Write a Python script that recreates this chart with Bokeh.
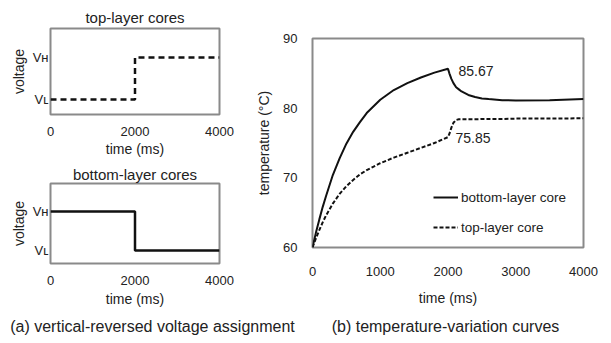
from bokeh.plotting import figure
from bokeh.layouts import row, column
from bokeh.models import Range1d, FixedTicker, Legend, LegendItem, Label
from bokeh.embed import file_html
from bokeh.resources import INLINE

FONT = "Liberation Sans"
TXT = "#222222"
FRAME = "#8a8a8a"

# ---- data: voltage assignment (a) ----
volt_time = [0, 2000, 2000, 4000]
top_voltage = [0, 0, 1, 1]        # 0 = VL, 1 = VH
bottom_voltage = [1, 1, 0, 0]
volt_ticks = [0, 1]
volt_tick_labels = {0: "V\u029f", 1: "V\u029c"}
volt_x_ticks = [0, 2000, 4000]

# ---- data: temperature curves (b) ----
temp_time = [0, 50, 100, 150, 200, 300, 400, 500, 600, 700, 800, 1000, 1200, 1400,
             1600, 1800, 2000, 2020, 2050, 2080, 2120, 2160, 2200, 2300, 2400, 2500,
             2600, 2800, 3000, 3500, 4000]
bottom_core = [60, 62.1, 64.0, 65.8, 67.4, 70.4, 72.8, 74.9, 76.6, 78.0, 79.3, 81.2, 82.6, 83.6,
               84.4, 85.1, 85.67, 85.0, 84.2, 83.6, 83.0, 82.7, 82.4, 81.9, 81.6, 81.4,
               81.3, 81.15, 81.1, 81.15, 81.3]
top_core = [60, 61.3, 62.5, 63.6, 64.6, 66.3, 67.7, 68.8, 69.7, 70.5, 71.1, 72.1, 72.9, 73.6,
            74.3, 75.0, 75.85, 76.3, 77.2, 77.9, 78.3, 78.4, 78.4, 78.4, 78.4, 78.45,
            78.45, 78.45, 78.5, 78.5, 78.55]
temp_y_ticks = [60, 70, 80, 90]
temp_x_ticks = [0, 1000, 2000, 3000, 4000]
peak_labels = [(2155, 85.4, "85.67"), (2111, 75.65, "75.85")]
captions = ["(a) vertical-reversed voltage assignment", "(b) temperature-variation curves"]


def style_common(p):
    p.outline_line_color = FRAME
    p.outline_line_width = 2
    p.xgrid.visible = False
    p.ygrid.visible = False
    p.background_fill_color = "white"
    p.border_fill_color = "white"
    for ax in (p.xaxis[0], p.yaxis[0]):
        ax.axis_line_color = None
        ax.major_tick_line_color = None
        ax.minor_tick_line_color = None
        ax.major_tick_out = 0
        ax.major_tick_in = 0
        ax.minor_tick_out = 0
        ax.major_label_text_font = FONT
        ax.major_label_text_font_size = "13px"
        ax.major_label_text_color = TXT
        ax.axis_label_text_font = FONT
        ax.axis_label_text_font_style = "normal"
        ax.axis_label_text_color = TXT


def volt_fig(title, yvals, dash, width, height, lb, rb, tb, bb, ymin, ymax, title_standoff,
             label_standoff):
    p = figure(width=width, height=height, output_backend="svg", toolbar_location=None,
               x_range=Range1d(0, 4000), y_range=Range1d(ymin, ymax),
               min_border_left=lb, min_border_right=rb, min_border_top=tb, min_border_bottom=bb)
    p.title.text = title
    p.title.align = "center"
    p.title.text_font = FONT
    p.title.text_font_size = "15px"
    p.title.text_font_style = "normal"
    p.title.text_color = TXT
    p.title.standoff = title_standoff
    style_common(p)
    p.line(volt_time, yvals, line_color="#111111", line_width=2.5, line_dash=dash)
    p.xaxis.ticker = FixedTicker(ticks=volt_x_ticks)
    p.xaxis.major_label_standoff = 12
    p.xaxis.axis_label = "time (ms)"
    p.xaxis.axis_label_text_font_size = "14px"
    p.xaxis.axis_label_standoff = label_standoff
    p.yaxis.ticker = FixedTicker(ticks=volt_ticks)
    p.yaxis.major_label_overrides = volt_tick_labels
    p.yaxis.major_label_standoff = 2
    p.yaxis.axis_label = "voltage"
    p.yaxis.axis_label_text_font_size = "14px"
    p.yaxis.axis_label_standoff = 3
    return p


p_top = volt_fig("top-layer cores", top_voltage, "6 4", 252, 160, 50, 30, 28, 46,
                 -0.357, 1.69, 5, 2)
p_bot = volt_fig("bottom-layer cores", bottom_voltage, "solid", 252, 155, 49, 33, 23, 52,
                 -0.333, 1.72, 1, 3)

# ---- right figure ----
p = figure(width=359, height=315, output_backend="svg", toolbar_location=None,
           x_range=Range1d(0, 4000), y_range=Range1d(60, 90),
           min_border_left=60, min_border_right=28, min_border_top=38, min_border_bottom=68)
style_common(p)
r_bot = p.line(temp_time, bottom_core, line_color="#111111", line_width=2)
r_top = p.line(temp_time, top_core, line_color="#111111", line_width=2, line_dash="4 2")
p.xaxis.ticker = FixedTicker(ticks=temp_x_ticks)
p.xaxis.major_label_standoff = 19
p.xaxis.axis_label = "time (ms)"
p.xaxis.axis_label_text_font_size = "14px"
p.xaxis.axis_label_standoff = 11
p.yaxis.ticker = FixedTicker(ticks=temp_y_ticks)
p.yaxis.major_label_standoff = 15
p.yaxis.axis_label = "temperature (\u00b0C)"
p.yaxis.axis_label_text_font_size = "14px"
p.yaxis.axis_label_standoff = 8

for lx, ly, lt in peak_labels:
    p.add_layout(Label(x=lx, y=ly, text=lt, text_font=FONT, text_font_size="14px",
                       text_color=TXT, text_baseline="middle", text_align="left"))

legend = Legend(items=[LegendItem(label="bottom-layer core", renderers=[r_bot]),
                       LegendItem(label="top-layer core", renderers=[r_top])],
                location=(121, 10), border_line_color=None, background_fill_alpha=0,
                padding=0, margin=0, spacing=10, label_height=20, glyph_height=20,
                glyph_width=25, label_standoff=3, label_text_font=FONT,
                label_text_font_size="13.5px", label_text_color=TXT)
p.add_layout(legend, "center")

# ---- caption strip ----
caps = figure(width=611, height=27, output_backend="svg", toolbar_location=None,
              x_range=Range1d(0, 611), y_range=Range1d(0, 27),
              x_axis_type=None, y_axis_type=None, min_border=0)
caps.outline_line_color = None
caps.xgrid.visible = False
caps.ygrid.visible = False
for cx, ct in zip([152, 445], captions):
    caps.add_layout(Label(x=cx, y=16, text=ct, text_font=FONT, text_font_size="16px",
                          text_color=TXT, text_baseline="middle", text_align="center"))

layout = column(row(column(p_top, p_bot), p), caps)
open("out.html", "w").write(file_html(layout, INLINE))
